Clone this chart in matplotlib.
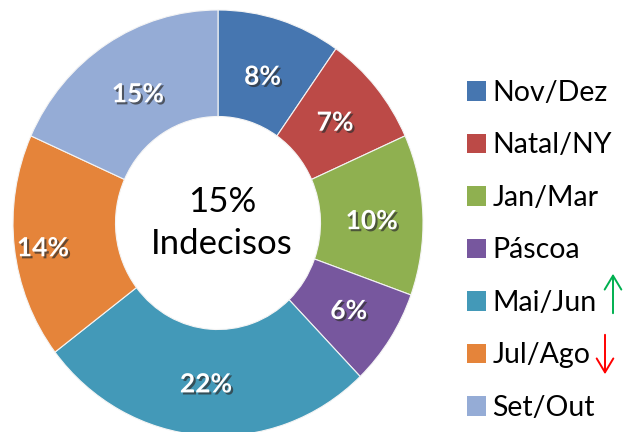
import matplotlib
matplotlib.use("Agg")
import matplotlib.pyplot as plt
import matplotlib.patheffects as pe
from matplotlib.patches import Patch, FancyArrowPatch
import numpy as np

categories = ["Nov/Dez", "Natal/NY", "Jan/Mar", "Páscoa", "Mai/Jun", "Jul/Ago", "Set/Out"]
values = [8, 7, 10, 6, 22, 14, 15]
value_labels = ["8%", "7%", "10%", "6%", "22%", "14%", "15%"]
center_label = "15%\nIndecisos"
colors = ["#4676B0", "#BC4A47", "#8FB050", "#77579E", "#4399B8", "#E5843A", "#95ACD6"]
label_radius = [0.72, 0.74, 0.75, 0.76, 0.76, 0.86, 0.72]

W, H = 625, 432
fig = plt.figure(figsize=(W / 100, H / 100), dpi=100)
fig.patch.set_facecolor("white")

# pie axes: x 13..423 px, y (from top) 10..436 px
ax = fig.add_axes([13 / W, (H - 436) / H, 410 / W, 426 / H])
wedges, _ = ax.pie(values, colors=colors, startangle=90, counterclock=False,
                   radius=1.0, wedgeprops=dict(width=0.5, edgecolor="#f4f4f4", linewidth=0.8))
ax.set_aspect("auto")
ax.set_xlim(-1, 1)
ax.set_ylim(-1, 1)
ax.axis("off")

shadow = [pe.SimplePatchShadow(offset=(1.5, -1.5), shadow_rgbFace="#303030", alpha=0.7), pe.Normal()]
for w, lab, r in zip(wedges, value_labels, label_radius):
    ang = np.deg2rad((w.theta1 + w.theta2) / 2)
    y_off = -0.02 if abs(np.cos(ang)) > 0.9 else 0.0
    ax.text(r * np.cos(ang), r * np.sin(ang) + y_off, lab, ha="center", va="center",
            fontsize=19, fontweight="bold", family="Lato", color="white",
            path_effects=shadow)

ax.text(0.02, 0.0, center_label, ha="center", va="center", fontsize=25,
        family="Lato", color="black", linespacing=1.38)

handles = [Patch(facecolor=c, edgecolor="none") for c in colors]
leg = fig.legend(handles, categories, loc="upper left", bbox_to_anchor=(467 / W, 1 - 80 / H),
                 frameon=False, prop=dict(family="Lato", size=20.5),
                 handlelength=0.67, handleheight=0.67, handletextpad=0.22,
                 labelspacing=0.93, borderaxespad=0, borderpad=0)

# arrows next to legend
fig.add_artist(FancyArrowPatch((613 / W, 1 - 316 / H), (613 / W, 1 - 271 / H),
               transform=fig.transFigure, arrowstyle="->,head_length=10,head_width=6",
               color="#00B050", linewidth=1.4, mutation_scale=1))
fig.add_artist(FancyArrowPatch((605 / W, 1 - 332 / H), (605 / W, 1 - 377 / H),
               transform=fig.transFigure, arrowstyle="->,head_length=10,head_width=6",
               color="#FF0000", linewidth=1.4, mutation_scale=1))

fig.savefig("out.png", dpi=100)
